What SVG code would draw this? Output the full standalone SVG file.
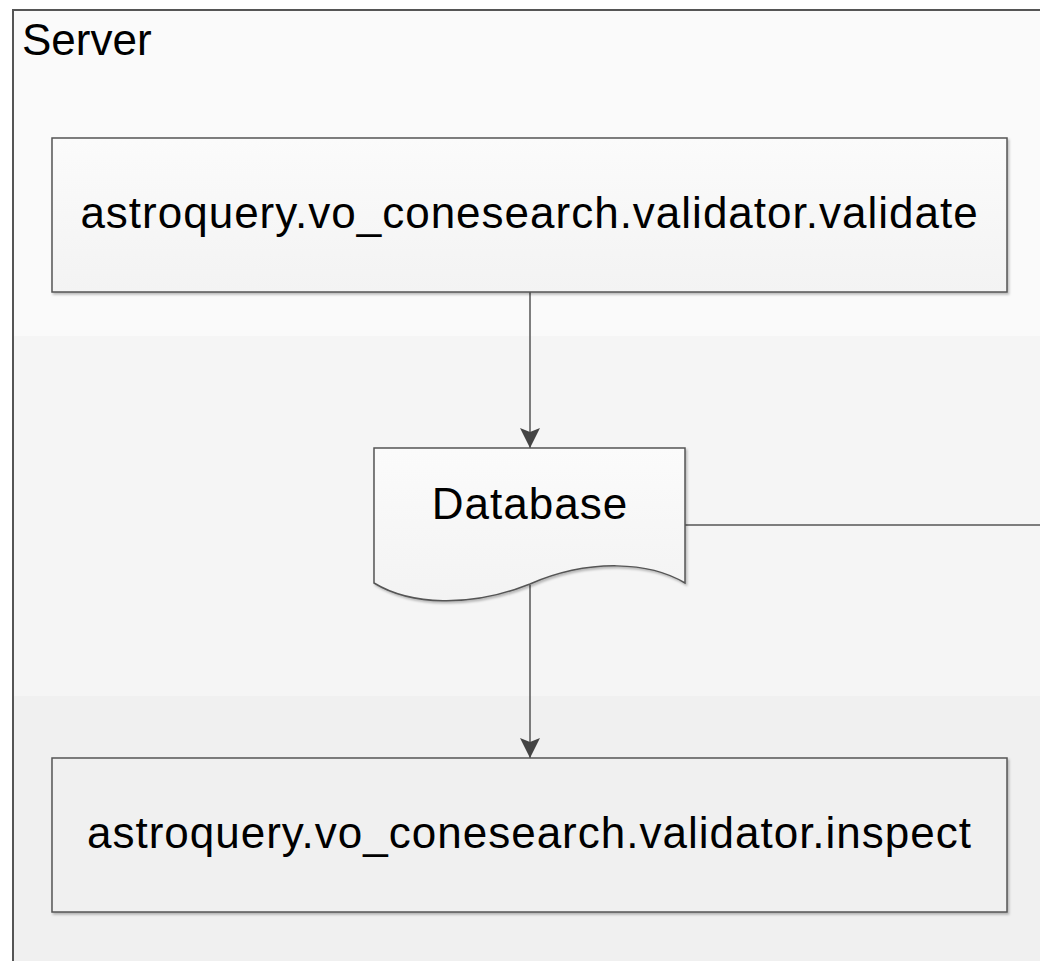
<svg xmlns="http://www.w3.org/2000/svg" width="1040" height="961" viewBox="0 0 1040 961">
  <defs>
    <style>
      .label { font-family: "Liberation Sans", Arial, sans-serif; font-size: 44px; fill: #000; letter-spacing: 1px; }
      .title { font-family: "Liberation Sans", Arial, sans-serif; font-size: 44px; fill: #000; }
      .node { stroke: #555; stroke-width: 1.5; }
      .conn { stroke: #555; stroke-width: 1.5; fill: none; }
    </style>
    <linearGradient id="boxFill" x1="0" y1="0" x2="0" y2="1">
      <stop offset="0" stop-color="#fbfbfb"/>
      <stop offset="1" stop-color="#f3f3f3"/>
    </linearGradient>
    <marker id="arrow" markerWidth="20" markerHeight="20" refX="20" refY="10" orient="auto" markerUnits="userSpaceOnUse" viewBox="0 0 20 20">
      <path d="M0,0 L4,10 L0,20 L20,10 Z" fill="#444"/>
    </marker>
    <filter id="shadow" x="-5%" y="-5%" width="110%" height="115%">
      <feDropShadow dx="1.5" dy="2" stdDeviation="1.2" flood-color="#000" flood-opacity="0.25"/>
    </filter>
  </defs>

  <rect x="0" y="0" width="1040" height="961" fill="#ffffff"/>

  <!-- Server lane with horizontal bands -->
  <g id="server">
    <rect x="13" y="10" width="1040" height="326" fill="#fafafa"/>
    <rect x="13" y="336" width="1040" height="360" fill="#f5f5f5"/>
    <rect x="13" y="696" width="1040" height="280" fill="#f0f0f0"/>
    <path d="M13,975 L13,10 L1045,10" fill="none" stroke="#555" stroke-width="2"/>
    <text class="title" x="22" y="55">Server</text>
  </g>

  <g id="connectors">
    <line class="conn" x1="530" y1="292" x2="530" y2="448" marker-end="url(#arrow)"/>
    <line class="conn" x1="530" y1="585" x2="530" y2="758" marker-end="url(#arrow)"/>
    <line class="conn" x1="685" y1="525" x2="1040" y2="525"/>
  </g>

  <g id="validate">
    <rect class="node" x="52" y="138" width="955" height="154" fill="url(#boxFill)" filter="url(#shadow)"/>
    <text class="label" x="529.5" y="228" text-anchor="middle">astroquery.vo_conesearch.validator.validate</text>
  </g>

  <g id="database">
    <path class="node" d="M374,448 L685,448 L685,583 C650,562 590,558 530,584 C470,608 410,605 374,583 Z" fill="url(#boxFill)" filter="url(#shadow)"/>
    <text class="label" x="530" y="519" text-anchor="middle">Database</text>
  </g>

  <g id="inspect">
    <rect class="node" x="52" y="758" width="955" height="154" fill="#f0f0f0" filter="url(#shadow)"/>
    <text class="label" x="529.5" y="848" text-anchor="middle">astroquery.vo_conesearch.validator.inspect</text>
  </g>
</svg>
